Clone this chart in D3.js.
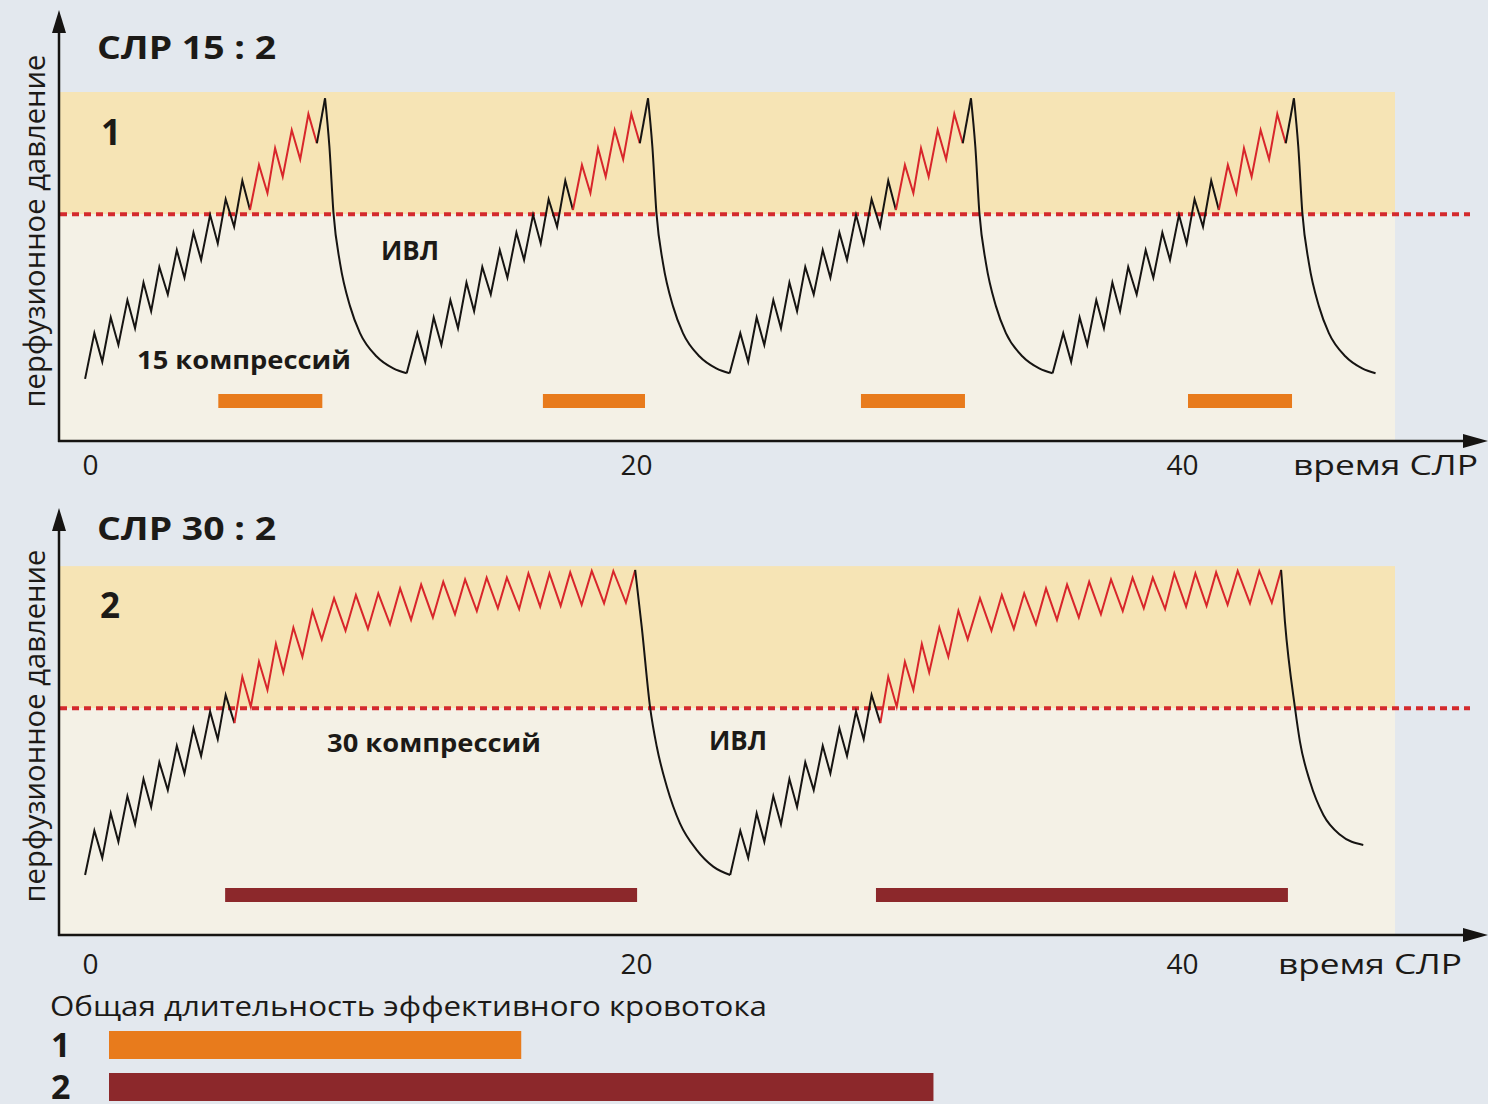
<!DOCTYPE html>
<html><head><meta charset="utf-8">
<script src="https://cdn.jsdelivr.net/npm/d3@7"></script>
<style>
body{margin:0;background:#e3e8ee;}
svg{display:block;}
text{font-family:"Open Sans",sans-serif;fill:#1c1a17;}
</style>
</head><body><svg id="c" width="1488" height="1104"></svg>
<script>
// ---------- DATA ----------
const tickValues = [0, 20, 40];
const threshold = 65;            // effective perfusion threshold (arbitrary units)

// Panel 1: CPR 15:2 — one cycle (times relative to cycle start)
const p1Start = 17.8;
const p1CycleStarts = [-0.18, 11.65, 23.48, 35.31];
const p1CompT = [0.34,0.63,0.94,1.22,1.55,1.83,2.14,2.42,2.72,3.03,3.36,3.64,3.97,4.25,4.58,4.86,5.15,5.46,5.76,6.04,6.37,6.68,6.96,7.24,7.57,7.88,8.18,8.49,8.79];
const p1CompP = [30.9,22.7,35.4,27.5,40.4,32.3,45.4,37.2,49.9,42.0,54.7,46.8,59.7,51.9,64.8,56.6,69.3,61.4,74.6,66.2,79.1,71.0,83.9,75.7,89.1,80.7,93.7,85.3,98.2];
const p1Red = [19, 27];
const p1DecayT = [8.95,9.10,9.34,9.71,10.07,10.68,11.29,11.78];
const p1DecayP = [84.3,65.2,50.9,38.5,30.9,24.2,20.8,19.4];
const p1Bars = [[4.70,8.51],[16.59,20.33],[28.24,32.05],[40.22,44.03]];

// Panel 2: CPR 30:2
const p2Start = 17.2;
const p2CycleStarts = [-0.18, 23.48];
const p2CompT = [0.34,0.63,0.94,1.22,1.55,1.83,2.14,2.42,2.72,3.03,3.36,3.64,3.97,4.25,4.58,4.86,5.15,5.47,5.76,6.07,6.37,6.68,6.99,7.26,7.63,7.96,8.33,8.67,9.12,9.54,9.92,10.36,10.74,11.17,11.54,11.94,12.31,12.74,13.12,13.55,13.92,14.35,14.71,15.12,15.45,15.90,16.24,16.67,17.01,17.42,17.77,18.19,18.56,19.01,19.35,19.81,20.15];
const p2CompP = [29.9,22.1,34.9,26.7,39.8,31.7,44.7,36.7,49.5,41.5,54.2,46.3,59.2,51.3,64.0,56.1,68.8,60.7,74.0,65.4,78.3,70.2,83.4,75.2,88.1,79.7,92.9,84.7,96.5,87.2,97.4,87.7,97.9,89.0,99.3,90.3,100.4,91.0,101.2,91.9,101.9,92.8,102.4,93.6,102.4,93.4,103.6,94.1,103.6,94.3,103.9,94.6,104.3,95.0,104.3,95.2,104.6];
const p2Red = [17, 56];
const p2DecayT = [20.39,20.70,20.94,21.31,21.79,22.40,23.01,23.63];
const p2DecayP = [88.3,65.0,54.0,42.5,32.0,24.4,19.6,17.2];
const p2EndDecayT = [20.29,20.66,20.84,21.21,21.70,22.31,23.16];
const p2EndDecayP = [89.8,65.0,55.4,43.9,34.4,28.7,25.8];
const p2Bars = [[4.95,20.04],[28.79,43.88]];

// Summary: total duration of effective blood flow
const summaryLabels = ["1", "2"];
const summaryValues = [15.1, 30.2];

// ---------- STYLE ----------
const C = {bg:"#e3e8ee", upper:"#f6e4b5", lower:"#f4f1e6", line:"#161412", red:"#d8262b",
           dot:"#d42a2d", orange:"#e87b1c", dark:"#8c282b"};

const svg = d3.select("#c");
svg.append("rect").attr("width",1488).attr("height",1104).attr("fill",C.bg);

const x = d3.scaleLinear().domain([0,40]).range([90,1182]);
const plotL = 60, plotR = 1395;

function drawPanel(o) {
  const y = d3.scaleLinear().domain([0,100]).range([o.axisY, o.axisY-349]);
  const g = svg.append("g");
  // bands
  g.append("rect").attr("x",plotL).attr("y",y(o.top)).attr("width",plotR-plotL)
    .attr("height",y(threshold)-y(o.top)).attr("fill",C.upper);
  g.append("rect").attr("x",plotL).attr("y",y(threshold)).attr("width",plotR-plotL)
    .attr("height",y(0)-y(threshold)).attr("fill",C.lower);
  // threshold
  g.append("line").attr("x1",plotL).attr("x2",1470).attr("y1",y(threshold)).attr("y2",y(threshold))
    .attr("stroke",C.dot).attr("stroke-width",4).attr("stroke-dasharray","7,5");
  // bars
  g.selectAll(".bar").data(o.bars).join("rect")
    .attr("x",d=>x(d[0])).attr("width",d=>x(d[1])-x(d[0]))
    .attr("y",o.barY).attr("height",14).attr("fill",o.barColor);
  // waveform
  const lin = d3.line().x(d=>x(d[0])).y(d=>y(d[1]));
  const crv = d3.line().x(d=>x(d[0])).y(d=>y(d[1])).curve(d3.curveMonotoneX);
  let prev = [o.cycleStarts[0], o.start];
  const segs = [];
  o.cycleStarts.forEach((cs,k) => {
    const comp = o.compT.map((t,i)=>[cs+t, o.compP[i]]);
    const last = comp.length-1;
    segs.push({p:[prev, ...comp.slice(0,o.red[0]+1)], c:C.line, f:lin});
    segs.push({p:comp.slice(o.red[0], o.red[1]+1), c:C.red, f:lin});
    if (o.red[1] < last) segs.push({p:comp.slice(o.red[1]), c:C.line, f:lin});
    const dT = o.decays[k][0], dP = o.decays[k][1];
    const dec = [comp[last], ...dT.map((t,i)=>[cs+t, dP[i]])];
    segs.push({p:dec, c:C.line, f:crv});
    prev = dec[dec.length-1];
  });
  g.selectAll(".seg").data(segs).join("path")
    .attr("d",d=>d.f(d.p)).attr("fill","none").attr("stroke",d=>d.c)
    .attr("stroke-width",2).attr("stroke-linejoin","miter").attr("stroke-miterlimit",10);
  // axes
  g.append("line").attr("x1",59).attr("x2",59).attr("y1",o.axisY+1).attr("y2",o.arrowTop+20)
    .attr("stroke",C.line).attr("stroke-width",2.5);
  g.append("path").attr("d",`M59,${o.arrowTop} L52,${o.arrowTop+23} L66,${o.arrowTop+23}Z`).attr("fill",C.line);
  g.append("line").attr("x1",58).attr("x2",1468).attr("y1",o.axisY).attr("y2",o.axisY)
    .attr("stroke",C.line).attr("stroke-width",2.5);
  g.append("path").attr("d",`M1488,${o.axisY} L1463,${o.axisY-7} L1463,${o.axisY+7}Z`).attr("fill",C.line);
  // tick labels via d3 axis
  const ax = g.append("g").attr("transform",`translate(0,${o.tickBase-20})`)
    .call(d3.axisBottom(x).tickValues(tickValues).tickSize(0).tickPadding(0));
  ax.select(".domain").remove();
  ax.selectAll("text").attr("font-size",28).attr("font-family","Open Sans, sans-serif").attr("fill","#1c1a17");
  ax.attr("font-family",null).attr("font-size",null);
  g.append("text").attr("x",o.timeX).attr("y",o.tickBase).attr("font-size",28)
    .attr("textLength",o.timeW).attr("lengthAdjust","spacingAndGlyphs").text("время СЛР");
  // y label
  g.append("text").attr("transform",`translate(45,${o.ylabC}) rotate(-90)`).attr("text-anchor","middle")
    .attr("font-size",29).attr("textLength",353).attr("lengthAdjust","spacingAndGlyphs").text("перфузионное давление");
  // title & labels
  g.append("text").attr("x",97).attr("y",o.titleBase).attr("font-size",33).attr("font-weight",700)
    .attr("textLength",179).attr("lengthAdjust","spacingAndGlyphs").text(o.title);
  g.append("text").attr("x",o.numX).attr("y",o.numBase).attr("font-size",35).attr("font-weight",700).text(o.num);
  g.append("text").attr("x",o.compX).attr("y",o.compBase).attr("font-size",25).attr("font-weight",700)
    .attr("textLength",214).attr("lengthAdjust","spacingAndGlyphs").text(o.comp);
  g.append("text").attr("x",o.ivlX).attr("y",o.ivlBase).attr("font-size",26).attr("font-weight",700)
    .attr("textLength",58).attr("lengthAdjust","spacingAndGlyphs").text("ИВЛ");
}

drawPanel({axisY:441, top:100, arrowTop:10, start:p1Start, cycleStarts:p1CycleStarts,
  compT:p1CompT, compP:p1CompP, red:p1Red, decays:p1CycleStarts.map(()=>[p1DecayT,p1DecayP]),
  bars:p1Bars, barY:394, barColor:C.orange, tickBase:475, timeX:1293, timeW:185, ylabC:231,
  title:"СЛР 15 : 2", titleBase:59, num:"1", numX:101, numBase:145,
  comp:"15 компрессий", compX:137, compBase:369, ivlX:381, ivlBase:260});

drawPanel({axisY:935, top:105.7, arrowTop:508, start:p2Start, cycleStarts:p2CycleStarts,
  compT:p2CompT, compP:p2CompP, red:p2Red, decays:[[p2DecayT,p2DecayP],[p2EndDecayT,p2EndDecayP]],
  bars:p2Bars, barY:888, barColor:C.dark, tickBase:974, timeX:1278, timeW:184, ylabC:726,
  title:"СЛР 30 : 2", titleBase:540, num:"2", numX:100, numBase:618,
  comp:"30 компрессий", compX:327, compBase:752, ivlX:709, ivlBase:750});

// summary
const xs = d3.scaleLinear().domain([0,40]).range([109,109+40*27.3]);
svg.append("text").attr("x",50).attr("y",1016).attr("font-size",27)
  .attr("textLength",717).attr("lengthAdjust","spacingAndGlyphs").text("Общая длительность эффективного кровотока");
const sumY = [1031, 1073];
svg.selectAll(".sb").data(summaryValues).join("rect")
  .attr("x",xs(0)).attr("width",d=>xs(d)-xs(0)).attr("y",(d,i)=>sumY[i]).attr("height",28)
  .attr("fill",(d,i)=>i===0?C.orange:C.dark);
svg.selectAll(".sl").data(summaryLabels).join("text")
  .attr("x",51).attr("y",(d,i)=>sumY[i]+26).attr("font-size",34).attr("font-weight",700).text(d=>d);
</script></body></html>
